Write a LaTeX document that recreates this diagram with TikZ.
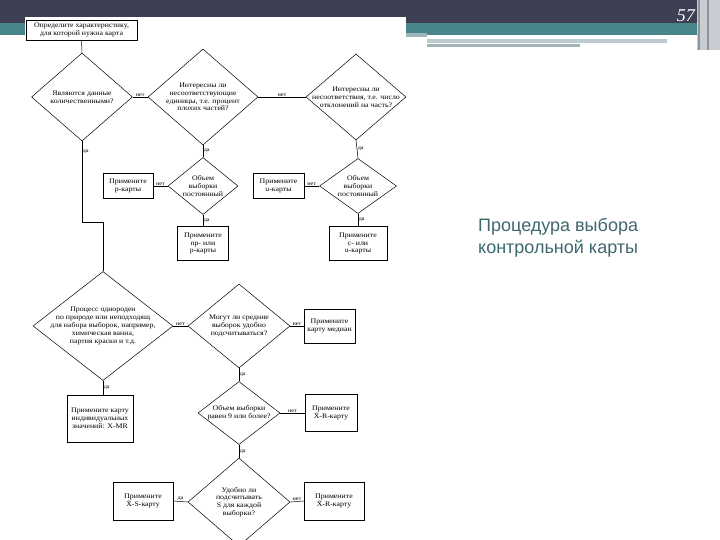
\documentclass[tikz,border=0pt]{standalone}
\usepackage{fontspec}
\setmainfont{Liberation Serif}
\newfontfamily\fcfont{Liberation Serif}[FakeStretch=1.12]
\newfontfamily\titlefont{Liberation Sans}
\usetikzlibrary{shapes.geometric}
\definecolor{hdark}{RGB}{61,64,82}
\definecolor{hteal}{RGB}{72,134,139}
\definecolor{hgrey}{RGB}{160,181,184}
\definecolor{hlight}{RGB}{200,205,210}
\definecolor{hbar}{RGB}{143,148,156}
\definecolor{ttl}{RGB}{62,104,112}
\tikzset{
  fc/.style={font=\fcfont\fontsize{7}{7.8}\selectfont, align=center, inner sep=0pt},
  dia/.style={draw, shape=diamond, inner sep=0pt, line width=0.5pt},
  boxn/.style={draw, rectangle, inner sep=0pt, line width=0.5pt, fc},
  boxb/.style={boxn, line width=1pt},
  lbl/.style={font=\fcfont\fontsize{5.5}{6}\selectfont, inner sep=0.6pt},
  conn/.style={draw, line width=0.5pt},
}
\begin{document}
\begin{tikzpicture}[x=1pt,y=-1pt]
\useasboundingbox (0,0) rectangle (720,540);
% slide header
\fill[white] (0,0) rectangle (720,540);
\fill[hdark] (0,0) rectangle (720,23);
\fill[hteal] (0,23) rectangle (700,35);
\fill[hgrey] (406,33) rectangle (427,37);
\fill[hgrey!70] (427,39) rectangle (667,43);
\fill[hgrey] (427,44) rectangle (580,47);
\fill[hlight] (697,0) rectangle (720,50);
\fill[hbar] (697.5,0) rectangle (699.5,50);
\fill[hbar] (706.5,0) rectangle (708.5,50);
\node[font=\fontsize{18}{20}\selectfont\itshape, text=white, anchor=base east, inner sep=0pt] (num) at (695,22) {57};
% scanned image area
\fill[white] (25,17) rectangle (406,540);
% title
\node[font=\titlefont\fontsize{18}{21}\selectfont, text=ttl, anchor=base west, inner sep=0pt] (t1) at (478,232) {Процедура выбора};
\node[font=\titlefont\fontsize{18}{21}\selectfont, text=ttl, anchor=base west, inner sep=0pt] (t2) at (478,253) {контрольной карты};

% flowchart nodes
\node[boxn, minimum width=111pt, minimum height=20pt] (start) at (81.5,30) {Определите характеристику,\\для которой нужна карта};

\node[dia, minimum width=101pt, minimum height=88pt] (d1) at (82,97) {};
\node[fc] (d1t) at (d1) {Являются данные\\количественными?};

\node[dia, minimum width=110pt, minimum height=96pt] (d2) at (203,97) {};
\node[fc] (d2t) at (d2) {Интересны ли\\несоответствующие\\единицы, т.е. процент\\плохих частей?};

\node[dia, minimum width=100pt, minimum height=86pt] (d3) at (356,97) {};
\node[fc] (d3t) at (d3) {Интересны ли\\несоответствия, т.е. число\\отклонений на часть?};

\node[dia, minimum width=70pt, minimum height=57pt] (d4) at (203,186) {};
\node[fc] (d4t) at (d4) {Объем\\выборки\\постоянный};

\node[boxn, minimum width=50pt, minimum height=25pt] (bp) at (128,186) {Примените\\p-карты};
\node[boxb, minimum width=51pt, minimum height=33pt] (bnp) at (203,243.5) {Примените\\np- или\\p-карты};

\node[dia, minimum width=77pt, minimum height=55pt] (d5) at (358,186) {};
\node[fc] (d5t) at (d5) {Объем\\выборки\\постоянный};

\node[boxn, minimum width=51pt, minimum height=25pt] (bu) at (278.5,186) {Примените\\u-карты};
\node[boxb, minimum width=58pt, minimum height=33pt] (bc) at (358,243.5) {Примените\\c- или\\u-карты};

\node[dia, minimum width=140pt, minimum height=109pt] (d6) at (103,326) {};
\node[fc] (d6t) at (d6) {Процесс однороден\\по природе или неподходящ\\для набора выборок, например,\\химическая ванна,\\партия краски и т.д.};

\node[dia, minimum width=102pt, minimum height=84pt] (d7) at (239,326) {};
\node[fc] (d7t) at (d7) {Могут ли средние\\выборок удобно\\подсчитываться?};

\node[boxn, minimum width=51pt, minimum height=34pt] (bmed) at (329.5,326) {Примените\\карту медиан};

\node[boxn, minimum width=66pt, minimum height=47pt] (bxmr) at (100,418.5) {Примените карту\\индивидуальных\\значений: X-MR};

\node[dia, minimum width=82pt, minimum height=63pt] (d8) at (239,413) {};
\node[fc] (d8t) at (d8) {Объем выборки\\равен 9 или более?};

\node[boxn, minimum width=52pt, minimum height=37pt] (bxr1) at (331,413) {Примените\\[1pt]X̄-R-карту};

\node[dia, minimum width=102pt, minimum height=88pt] (d9) at (239,502) {};
\node[fc] (d9t) at (d9) {Удобно ли\\подсчитывать\\S для каждой\\выборки?};

\node[boxn, minimum width=60pt, minimum height=38pt] (bxs) at (143,501) {Примените\\[1pt]X̄-S-карту};
\node[boxn, minimum width=60pt, minimum height=38pt] (bxr2) at (334,501) {Примените\\[1pt]X̄-R-карту};

% connectors
\draw[conn] (start.south) -- (d1.north);
\draw[conn] (d1.east) -- node[lbl, above] {нет} (d2.west);
\draw[conn] (d2.east) -- node[lbl, above] {нет} (d3.west);
\draw[conn] (d1.south) -- node[lbl, anchor=west, pos=0.13] {да} ++(0,81) -| (d6.north);
\draw[conn] (d2.south) -- node[lbl, anchor=west, pos=0.45] {да} (d4.north);
\draw[conn] (d3.south) -- node[lbl, anchor=west, pos=0.45] {да} (d5.north);
\draw[conn] (d4.west) -- node[lbl, above] {нет} (bp.east);
\draw[conn] (d4.south) -- node[lbl, anchor=west] {да} (bnp.north);
\draw[conn] (d5.west) -- node[lbl, above] {нет} (bu.east);
\draw[conn] (d5.south) -- node[lbl, anchor=west] {да} (bc.north);
\draw[conn] (d6.east) -- node[lbl, above] {нет} (d7.west);
\draw[conn] (d6.south) -- node[lbl, anchor=west] {да} (d6.south |- bxmr.north);
\draw[conn] (d7.east) -- node[lbl, above] {нет} (bmed.west);
\draw[conn] (d7.south) -- node[lbl, anchor=west] {да} (d8.north);
\draw[conn] (d8.east) -- node[lbl, above] {нет} (bxr1.west);
\draw[conn] (d8.south) -- node[lbl, anchor=west] {да} (d9.north);
\draw[conn] (d9.west) -- node[lbl, above] {да} (bxs.east);
\draw[conn] (d9.east) -- node[lbl, above] {нет} (bxr2.west);
\end{tikzpicture}
\end{document}
